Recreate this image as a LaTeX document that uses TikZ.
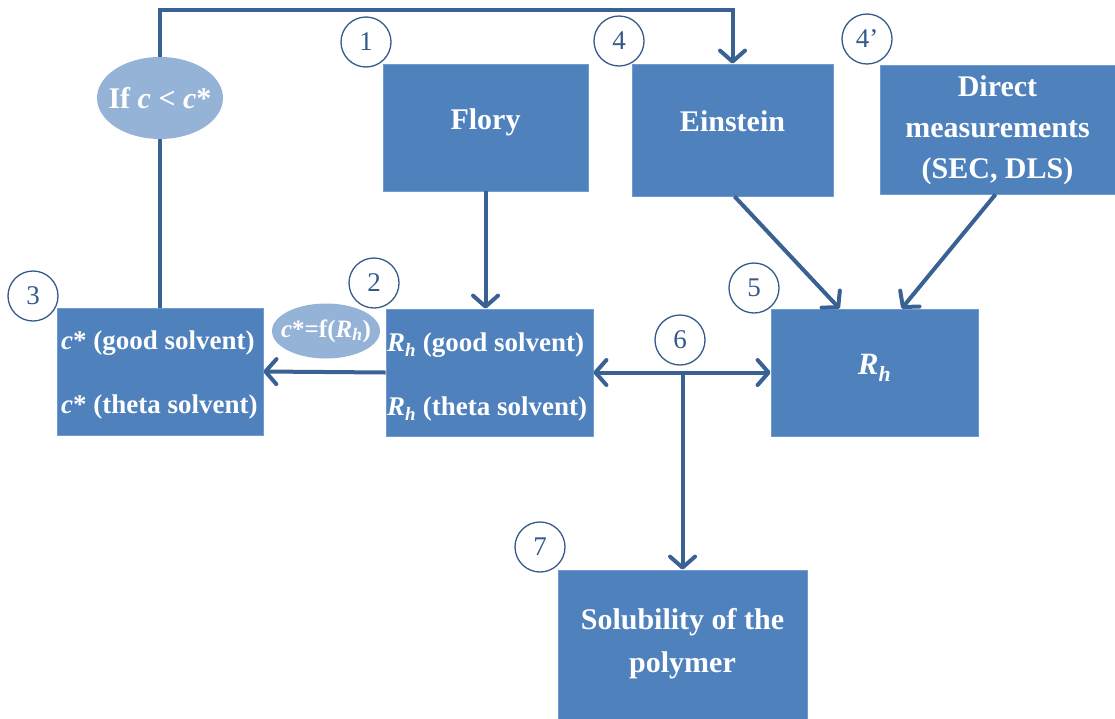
\documentclass[tikz,border=0pt]{standalone}
\usepackage{fontspec}
\setmainfont{Liberation Serif}
\usetikzlibrary{arrows.meta,shapes.geometric}
\definecolor{boxfill}{HTML}{4F81BD}
\definecolor{boxedge}{HTML}{6E9BD2}
\definecolor{linkc}{HTML}{3A6194}
\definecolor{ovalfill}{HTML}{95B3D7}
\definecolor{numc}{HTML}{34598A}
\newcommand{\Rsym}{\textit{R}\textsubscript{\textit{h}}}
\newcommand{\cstar}{\textit{c}*}
\tikzset{
  x=1pt, y=-1pt,
  blockbox/.style={draw=boxedge, line width=0.8pt, fill=boxfill, inner sep=0pt},
  blocktext/.style={text=white, font=\fontsize{30}{41}\selectfont\bfseries, align=center, inner sep=0pt},
  pairtext/.style={text=white, font=\fontsize{27}{64}\selectfont\bfseries, align=left, inner sep=0pt},
  oval/.style={ellipse, fill=ovalfill, inner sep=0pt},
  ovaltext/.style={text=white, inner sep=0pt},
  numcirc/.style={circle, draw=numc, line width=1.3pt, minimum size=50pt, inner sep=0pt,
    text=numc, font=\fontsize{27}{30}\selectfont},
  tipb/.tip={Straight Barb[length=11pt, width=25pt, line cap=round, line join=round]},
  link/.style={draw=linkc, line width=4pt, -tipb},
  dlink/.style={draw=linkc, line width=4pt, tipb-tipb},
}
\begin{document}
\begin{tikzpicture}
\useasboundingbox (0,0) rectangle (1115,718);

% boxes
\node[blockbox, minimum width=205pt, minimum height=127pt] (flory) at (485.5,127.5) {};
\node[blockbox, minimum width=201pt, minimum height=132pt] (einstein) at (732.5,130) {};
\node[blockbox, minimum width=235pt, minimum height=129pt] (direct) at (997.5,129.5) {};
\node[blockbox, minimum width=206pt, minimum height=127pt] (cbox) at (160,371.5) {};
\node[blockbox, minimum width=207pt, minimum height=127pt] (rhbox) at (489.5,372.5) {};
\node[blockbox, minimum width=207pt, minimum height=127pt] (rhr) at (874.5,372.5) {};
\node[blockbox, minimum width=249pt, minimum height=150pt] (sol) at (682.5,645) {};

% box texts
\node[blocktext] (floryt) at (485.5,122) {Flory};
\node[blocktext] (einsteint) at (732.5,121) {Einstein};
\node[blocktext] (directt) at (997.5,130) {Direct\\measurements\\(SEC, DLS)};
\node[pairtext, anchor=west] (cboxt) at (61,375) {\cstar{} (good solvent)\\\cstar{} (theta solvent)};
\node[pairtext, anchor=west] (rhboxt) at (387,377) {\Rsym{} (good solvent)\\\Rsym{} (theta solvent)};
\node[blocktext, font=\fontsize{31}{39}\selectfont\bfseries\itshape] (rhrt) at (874.5,368) {\Rsym};
\node[blocktext, font=\fontsize{30}{43}\selectfont\bfseries] (solt) at (682.5,644) {Solubility of the\\polymer};

% connectors
\draw[link] (cbox.north) -- (cbox.north |- 0,10) -| (einstein.north);
\draw[link] (flory.south) -- (flory.south |- rhbox.north);
\draw[link] (rhbox.west) -- (cbox.east);
\draw[dlink] (rhbox.east) -- (rhr.west);
\draw[link] (sol.north |- rhbox.east) -- (sol.north);
\draw[link] ([xshift=2pt]einstein.south) -- ([xshift=69pt]rhr.north west);
\draw[link] ([xshift=-2pt]direct.south) -- ([xshift=131pt]rhr.north west);

% condition ovals
\node[oval, minimum width=126pt, minimum height=82pt] (cond) at (160,98) {};
\node[ovaltext, font=\fontsize{30}{32}\selectfont\bfseries] (condt) at (cond) {If \textit{c} < \textit{c}*};
\node[oval, minimum width=108pt, minimum height=55pt] (crel) at (326,331) {};
\node[ovaltext, font=\fontsize{25}{30}\selectfont\bfseries] (crelt) at (crel) {\textit{c}*=f(\textit{R}\textsubscript{\textit{h}})};

% step numbers
\node[numcirc] (s1) at (366,42) {1};
\node[numcirc] (s2) at (374,283) {2};
\node[numcirc] (s3) at (33,296) {3};
\node[numcirc] (s4) at (619,41) {4};
\node[numcirc] (s4p) at (867,39) {4’};
\node[numcirc] (s5) at (754,288) {5};
\node[numcirc] (s6) at (680,340) {6};
\node[numcirc] (s7) at (540,547) {7};
\end{tikzpicture}
\end{document}
